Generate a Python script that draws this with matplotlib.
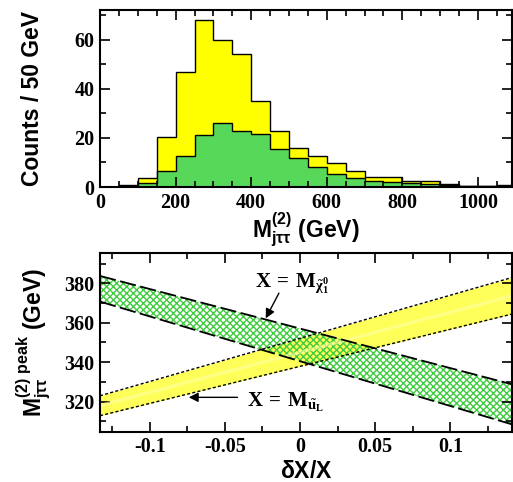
#!/usr/bin/env python3
"""
Two-panel figure: M_jtautau^(2) histogram and peak position vs dX/X bands.
Output: out.png
"""

import numpy as np
import matplotlib
matplotlib.use("Agg")
import matplotlib.pyplot as plt
from matplotlib.ticker import MultipleLocator

# 1. DATA
bin_edges = np.arange(50, 1101, 50)
counts_total = [0.7, 3.5, 20.5, 47, 68, 60, 54, 35, 23, 16, 12.5,
                9.8, 6.6, 4, 4, 2.3, 2.3, 1.1, 0.5, 0.4, 0.9]
counts_signal = [0.3, 1.6, 6.4, 12.5, 21, 26, 23, 21.6, 15.6, 12, 8,
                 5.2, 3.7, 2.6, 2, 1.8, 1.4, 0.8, 0.4, 0.3, 0.4]

band_x = [-0.133, 0.141]
chi_upper = [383.7, 328.8]
chi_lower = [370.7, 308.5]
squark_upper = [323.0, 382.9]
squark_lower = [312.9, 364.4]
squark_mid = [318.0, 373.6]

# 2. STYLE
plt.rcParams['mathtext.fontset'] = 'custom'
plt.rcParams['mathtext.rm'] = 'Liberation Serif:bold'
plt.rcParams['mathtext.bf'] = 'Liberation Sans:bold'
plt.rcParams['mathtext.sf'] = 'Liberation Sans:bold'
plt.rcParams['mathtext.it'] = 'Liberation Sans:bold:italic'

label_font = {'family': 'Liberation Sans', 'weight': 'bold', 'size': 16.5}
tick_font = {'family': 'Liberation Serif', 'weight': 'bold', 'size': 14.5}
arrow_style = dict(arrowstyle='-|>', color='black', lw=1.0,
                   mutation_scale=14, shrinkA=0, shrinkB=0)


def style_axes(ax):
    for s in ax.spines.values():
        s.set_linewidth(1.5)
    ax.tick_params(which='both', direction='in', top=True, right=True, width=1.2)
    ax.tick_params(which='major', length=7, pad=4)
    ax.tick_params(which='minor', length=4)
    for lab in ax.get_xticklabels() + ax.get_yticklabels():
        lab.set_fontfamily(tick_font['family'])
        lab.set_fontweight(tick_font['weight'])
        lab.set_fontsize(tick_font['size'])


fig = plt.figure(figsize=(5.13, 4.82), dpi=100, facecolor='white')

# 3. TOP PANEL - histogram
ax1 = fig.add_axes([0.195, 0.612, 0.803, 0.367])
ax1.stairs(counts_total, bin_edges, fill=True, color='#ffff00')
ax1.stairs(counts_total, bin_edges, color='black', lw=1.0)
ax1.stairs(counts_signal, bin_edges, fill=True, color='#58d858')
ax1.stairs(counts_signal, bin_edges, color='black', lw=1.0)

ax1.set_xlim(0, 1090)
ax1.set_ylim(0, 72)
ax1.xaxis.set_major_locator(MultipleLocator(200))
ax1.xaxis.set_minor_locator(MultipleLocator(50))
ax1.yaxis.set_major_locator(MultipleLocator(20))
ax1.yaxis.set_minor_locator(MultipleLocator(10))
ax1.set_ylabel('Counts / 50 GeV', fontdict=label_font, labelpad=22)
ax1.set_xlabel(r'$\mathbf{M^{(2)}_{j\tau\tau}}$ (GeV)', fontdict=label_font, labelpad=-1)
style_axes(ax1)

# 4. BOTTOM PANEL - bands
ax2 = fig.add_axes([0.195, 0.104, 0.803, 0.371])
ax2.fill_between(band_x, squark_lower, squark_upper, color='#ffff30', alpha=0.8, lw=0)
ax2.plot(band_x, squark_mid, color='#ffffa0', lw=2.5, alpha=0.6)
ax2.plot(band_x, squark_upper, color='black', lw=1.0, ls=(0, (2.2, 1.6)))
ax2.plot(band_x, squark_lower, color='black', lw=1.0, ls=(0, (2.2, 1.6)))

ax2.fill_between(band_x, chi_lower, chi_upper, facecolor='none',
                 edgecolor='#3fcc3f', hatch='xxxxx', lw=0)
ax2.plot(band_x, chi_upper, color='black', lw=1.3, ls=(0, (9, 2.5)))
ax2.plot(band_x, chi_lower, color='black', lw=1.3, ls=(0, (9, 2.5)))

ax2.text(-0.030, 379.5, r'$\mathrm{X\,=\,M_{\tilde{\chi}^0_1}}$', fontsize=15,
         va='center', ha='left')
ax2.annotate('', xy=(-0.0228, 362.2), xytext=(-0.014, 375.0), arrowprops=arrow_style)
ax2.text(-0.035, 319.5, r'$\mathrm{X\,=\,M_{\tilde{u}_L}}$', fontsize=15,
         va='center', ha='left')
ax2.annotate('', xy=(-0.074, 322.2), xytext=(-0.0416, 322.2), arrowprops=arrow_style)

ax2.set_xlim(band_x)
ax2.set_ylim(304.7, 395.3)
ax2.xaxis.set_minor_locator(MultipleLocator(0.025))
ax2.yaxis.set_major_locator(MultipleLocator(20))
ax2.yaxis.set_minor_locator(MultipleLocator(10))
ax2.set_xticks([-0.1, -0.05, 0, 0.05, 0.1])
ax2.set_xticklabels(['-0.1', '-0.05', '0', '0.05', '0.1'])
ax2.set_xlabel(r'$\mathbf{\delta}$X/X', fontdict=label_font, labelpad=2)
ax2.set_ylabel(r'$\mathbf{M^{(2)\ peak}_{j\tau\tau}}$ (GeV)', fontdict=label_font,
               labelpad=8)
style_axes(ax2)

# 5. SAVE
fig.savefig('out.png', dpi=100, facecolor='white')
plt.close(fig)
